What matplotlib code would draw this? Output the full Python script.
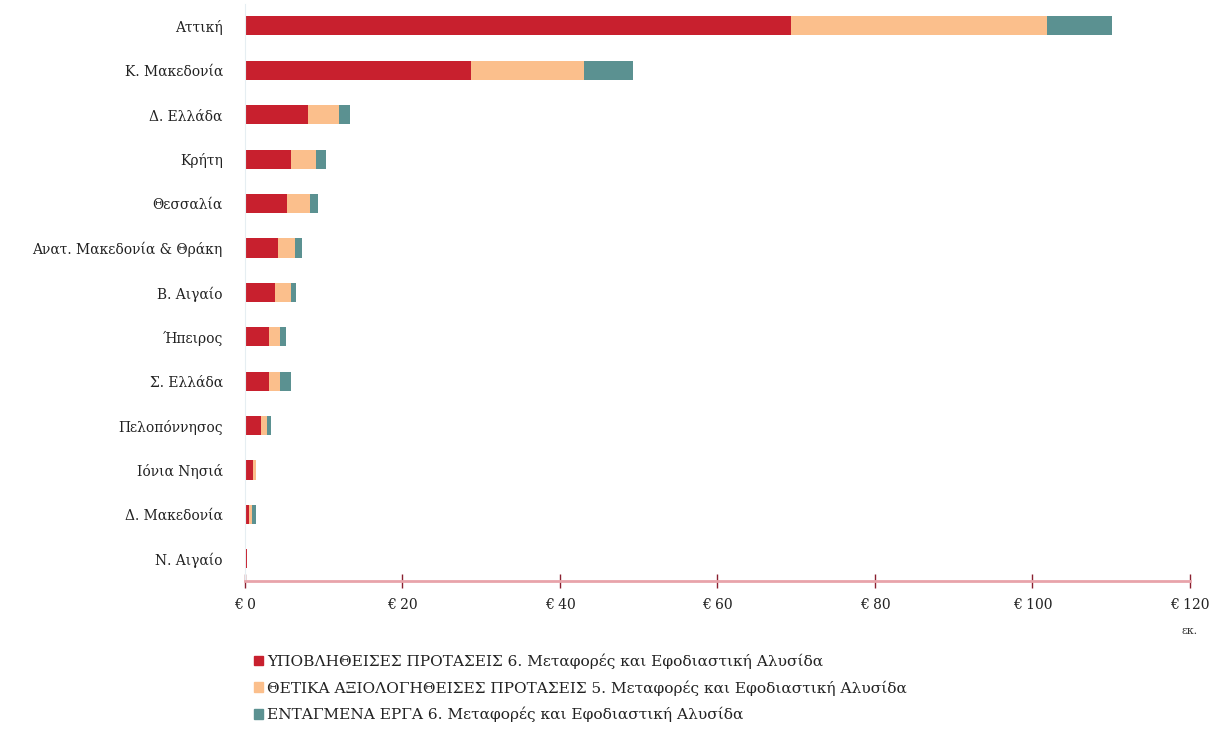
import matplotlib.pyplot as plt
from matplotlib.patches import Patch

regions = ['Αττική', 'Κ. Μακεδονία', 'Δ. Ελλάδα', 'Κρήτη', 'Θεσσαλία',
           'Ανατ. Μακεδονία & Θράκη', 'Β. Αιγαίο', 'Ήπειρος', 'Σ. Ελλάδα',
           'Πελοπόννησος', 'Ιόνια Νησιά', 'Δ. Μακεδονία', 'Ν. Αιγαίο']
submitted = [69.3, 28.7, 8.0, 5.8, 5.3, 4.2, 3.8, 3.1, 3.0, 2.0, 1.0, 0.55, 0.2]
approved = [32.5, 14.4, 3.9, 3.2, 3.0, 2.1, 2.1, 1.4, 1.5, 0.8, 0.4, 0.3, 0.0]
included = [8.3, 6.2, 1.4, 1.3, 1.0, 0.9, 0.6, 0.7, 1.3, 0.5, 0.0, 0.55, 0.0]
xticks = [0, 20, 40, 60, 80, 100, 120]
labels = ['ΥΠΟΒΛΗΘΕΙΣΕΣ ΠΡΟΤΑΣΕΙΣ 6. Μεταφορές και Εφοδιαστική Αλυσίδα',
          'ΘΕΤΙΚΑ ΑΞΙΟΛΟΓΗΘΕΙΣΕΣ ΠΡΟΤΑΣΕΙΣ 5. Μεταφορές και Εφοδιαστική Αλυσίδα',
          'ΕΝΤΑΓΜΕΝΑ ΕΡΓΑ 6. Μεταφορές και Εφοδιαστική Αλυσίδα']
colors = ['#c8202e', '#fbbf8c', '#5b9191']

plt.rcParams['font.family'] = ['DejaVu Serif']

fig = plt.figure(figsize=(12.16, 7.44), dpi=100)
ax = fig.add_axes([0.2015, 0.219, 0.777, 0.776])

y = list(range(len(regions)))
left2 = submitted
left3 = [a + b for a, b in zip(submitted, approved)]
ax.barh(y, submitted, height=0.43, color=colors[0])
ax.barh(y, approved, left=left2, height=0.43, color=colors[1])
ax.barh(y, included, left=left3, height=0.43, color=colors[2])

ax.set_ylim(12.5, -0.5)
ax.set_xlim(0, 120)
ax.set_yticks(y)
ax.set_yticklabels(regions, fontsize=10, color='#222222')
ax.set_xticks(xticks)
ax.set_xticklabels(['€ {}'.format(v) for v in xticks], fontsize=10, color='#222222')

for s in ['top', 'right']:
    ax.spines[s].set_visible(False)
ax.spines['bottom'].set_color('#e8a3aa')
ax.spines['bottom'].set_linewidth(2)
ax.spines['left'].set_color('#e6eef2')
ax.spines['left'].set_linewidth(0.8)
ax.tick_params(axis='y', length=0, pad=16)
ax.tick_params(axis='x', direction='inout', length=10, width=1, color='#8a2030', pad=7)

fig.text(0.978, 0.148, 'εκ.', fontsize=8, ha='center', color='#333333')

handles = [Patch(color=c) for c in colors]
fig.legend(handles, labels, loc='upper left', bbox_to_anchor=(0.204, 0.13),
           frameon=False, fontsize=11.1, handlelength=0.6, handleheight=0.6,
           handletextpad=0.25, labelspacing=0.72, borderaxespad=0,
           labelcolor='#222222')

fig.savefig('out.png', dpi=100)
